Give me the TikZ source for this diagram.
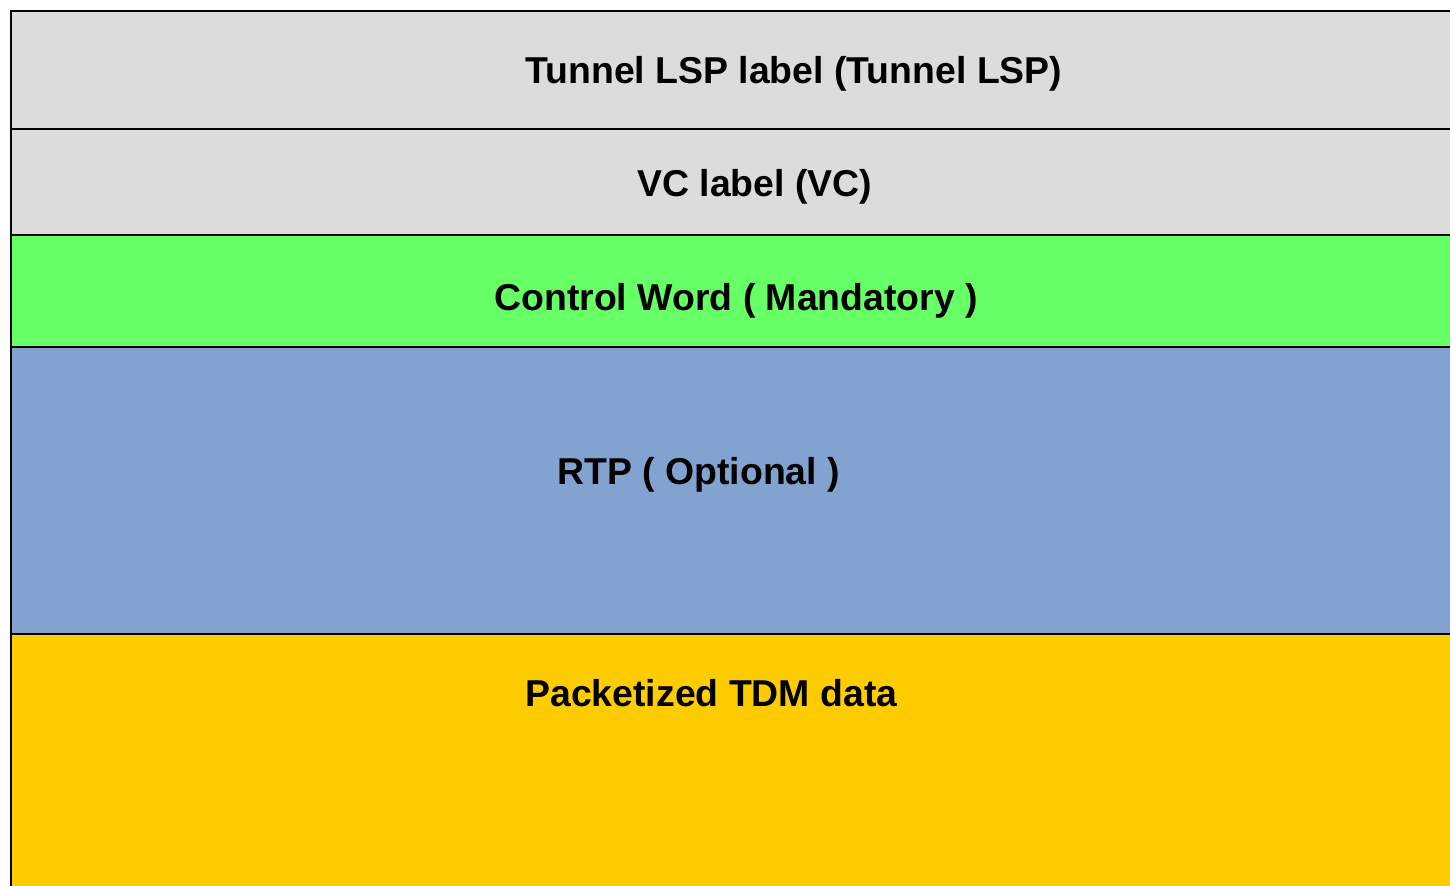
\documentclass[tikz,border=0pt]{standalone}
\usepackage{fontspec}
\setmainfont{Liberation Sans}
\definecolor{layergray}{HTML}{DCDCDC}
\definecolor{layergreen}{HTML}{66FF66}
\definecolor{layerblue}{HTML}{82A3D0}
\definecolor{layeryellow}{HTML}{FFCC00}
\begin{document}
\begin{tikzpicture}[x=0.5pt,y=-0.5pt,
  layer/.style={draw=black,line width=0.75pt},
  layertext/.style={anchor=base west,inner sep=0pt,font=\fontsize{18.7pt}{22pt}\selectfont\bfseries}]
\useasboundingbox (0,0) rectangle (1450,886);
\clip (0,0) rectangle (1450,886);
% stacked protocol layers, top to bottom
\filldraw[layer,fill=layergray]   (11,11)  rectangle (1470,129);
\filldraw[layer,fill=layergray]   (11,129) rectangle (1470,235);
\filldraw[layer,fill=layergreen]  (11,235) rectangle (1470,347);
\filldraw[layer,fill=layerblue]   (11,347) rectangle (1470,634);
\filldraw[layer,fill=layeryellow] (11,634) rectangle (1470,910);
% heavier outer frame on the top and left
\draw[line width=1pt] (11,910) -- (11,11) -- (1470,11);
% layer names
\node[layertext] (tunnel) at (525,84)  {Tunnel LSP label (Tunnel LSP)};
\node[layertext] (vc)     at (637,197) {VC label (VC)};
\node[layertext] (cw)     at (494,311) {Control Word ( Mandatory )};
\node[layertext] (rtp)    at (557,485) {RTP ( Optional )};
\node[layertext] (tdm)    at (525,706) {Packetized TDM data};
\end{tikzpicture}
\end{document}
